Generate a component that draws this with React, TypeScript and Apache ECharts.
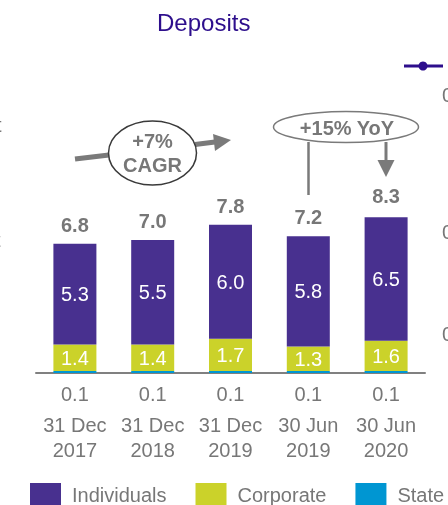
import React, { useEffect, useRef } from "react";
import * as echarts from "echarts";

const categories = ["31 Dec\n2017", "31 Dec\n2018", "31 Dec\n2019", "30 Jun\n2019", "30 Jun\n2020"];
const individuals = [5.3, 5.5, 6.0, 5.8, 6.5];
const corporate = [1.4, 1.4, 1.7, 1.3, 1.6];
const state = [0.1, 0.1, 0.1, 0.1, 0.1];
const totals = [6.8, 7.0, 7.8, 7.2, 8.3];
const seriesNames = ["Individuals", "Corporate", "State"];

const PURPLE = "#48308F";
const LIME = "#CBD22A";
const BLUE = "#0096D2";
const GRAY = "#777777";
const FONT = "Liberation Sans, Arial, Helvetica, sans-serif";

export default function App() {
  const ref = useRef<HTMLDivElement>(null);
  useEffect(() => {
    if (!ref.current) return;
    const chart = echarts.init(ref.current, null, { renderer: "svg" });
    const fmt = (p: any) => Number(p.value).toFixed(1);
    const option: any = {
      animation: false,
      textStyle: { fontFamily: FONT },
      title: {
        text: "Deposits",
        left: 157,
        top: 10,
        padding: 0,
        textStyle: { color: "#2D0E8C", fontSize: 24, fontWeight: "normal", fontFamily: FONT },
      },
      legend: {
        data: seriesNames,
        left: 30,
        top: 483,
        padding: 0,
        itemWidth: 31,
        itemHeight: 23,
        itemGap: 29,
        icon: "rect",
        textStyle: { color: GRAY, fontSize: 20, fontFamily: FONT, padding: [0, 0, 0, 6] },
      },
      grid: { left: 36, right: 23, top: 183, bottom: 132 },
      xAxis: {
        type: "category",
        data: categories,
        axisLine: { lineStyle: { color: "#808080", width: 2 } },
        axisTick: { alignWithLabel: true, length: 5, lineStyle: { color: "#808080", width: 1 } },
        axisLabel: { interval: 0, color: GRAY, fontSize: 20, lineHeight: 25, margin: 39, fontFamily: FONT },
      },
      yAxis: { type: "value", min: 0, max: 10, show: false, splitLine: { show: false } },
      series: [
        {
          name: "State",
          type: "bar",
          stack: "d",
          barWidth: 43,
          data: state,
          itemStyle: { color: BLUE },
          label: { show: true, position: "bottom", distance: 11, color: GRAY, fontSize: 20, fontFamily: FONT, formatter: fmt },
        },
        {
          name: "Corporate",
          type: "bar",
          stack: "d",
          barWidth: 43,
          data: corporate,
          itemStyle: { color: LIME },
          label: { show: true, position: "inside", color: "#ffffff", fontSize: 20, fontFamily: FONT, formatter: fmt },
        },
        {
          name: "Individuals",
          type: "bar",
          stack: "d",
          barWidth: 43,
          data: individuals,
          itemStyle: { color: PURPLE },
          label: { show: true, position: "inside", color: "#ffffff", fontSize: 20, fontFamily: FONT, formatter: fmt },
        },
        {
          name: "Total",
          type: "bar",
          barWidth: 43,
          barGap: "-100%",
          data: totals,
          silent: true,
          z: 1,
          itemStyle: { color: "rgba(0,0,0,0)" },
          label: { show: true, position: "top", distance: 9, color: GRAY, fontSize: 20, fontWeight: "bold", fontFamily: FONT, formatter: fmt },
        },
      ],
      graphic: [
        // CAGR arrow
        { type: "line", shape: { x1: 75, y1: 159, x2: 109, y2: 155 }, style: { stroke: "#7a7a7a", lineWidth: 5 } },
        { type: "line", shape: { x1: 195, y1: 144.5, x2: 215, y2: 142 }, style: { stroke: "#7a7a7a", lineWidth: 5 } },
        { type: "polygon", shape: { points: [[213, 134], [231, 140], [215, 151]] }, style: { fill: "#7a7a7a" } },
        { type: "ellipse", shape: { cx: 152.5, cy: 153, rx: 44, ry: 32 }, style: { fill: "#ffffff", stroke: "#3a3a3a", lineWidth: 1.5 } },
        { type: "text", x: 152.5, y: 141, style: { text: "+7%", fill: GRAY, font: `bold 20px ${FONT}`, align: "center", verticalAlign: "middle" } },
        { type: "text", x: 152.5, y: 165, style: { text: "CAGR", fill: GRAY, font: `bold 20px ${FONT}`, align: "center", verticalAlign: "middle" } },
        // YoY annotation
        { type: "line", shape: { x1: 308.5, y1: 142, x2: 308.5, y2: 195 }, style: { stroke: "#7a7a7a", lineWidth: 2.5 } },
        { type: "line", shape: { x1: 386, y1: 142, x2: 386, y2: 162 }, style: { stroke: "#7a7a7a", lineWidth: 3 } },
        { type: "polygon", shape: { points: [[377.5, 160], [394.5, 160], [386, 177]] }, style: { fill: "#7a7a7a" } },
        { type: "ellipse", shape: { cx: 346, cy: 127, rx: 72.5, ry: 15.5 }, style: { fill: "#ffffff", stroke: "#7a7a7a", lineWidth: 1.5 } },
        { type: "text", x: 347, y: 127.5, style: { text: "+15% YoY", fill: GRAY, font: `bold 20px ${FONT}`, align: "center", verticalAlign: "middle" } },
        // legend marker of neighbouring line chart
        { type: "line", shape: { x1: 404, y1: 66, x2: 443, y2: 66 }, style: { stroke: "#2D0E8C", lineWidth: 3 } },
        { type: "circle", shape: { cx: 423, cy: 66, r: 4.5 }, style: { fill: "#2D0E8C" } },
        // cropped texts at the edges (cut off in the reference too)
        { type: "text", x: 442, y: 95, style: { text: "0", fill: GRAY, font: `20px ${FONT}`, verticalAlign: "middle" } },
        { type: "text", x: 442, y: 232, style: { text: "0", fill: GRAY, font: `20px ${FONT}`, verticalAlign: "middle" } },
        { type: "text", x: 442, y: 334, style: { text: "0", fill: GRAY, font: `20px ${FONT}`, verticalAlign: "middle" } },
        { type: "text", x: -4, y: 125, style: { text: "t", fill: GRAY, font: `20px ${FONT}`, verticalAlign: "middle" } },
        { type: "text", x: -5, y: 240, style: { text: "t", fill: GRAY, font: `20px ${FONT}`, verticalAlign: "middle" } },
      ],
    };
    chart.setOption(option);
    return () => chart.dispose();
  }, []);
  return <div ref={ref} style={{ width: 448, height: 505, position: "fixed", left: 0, top: 0 }} />;
}
